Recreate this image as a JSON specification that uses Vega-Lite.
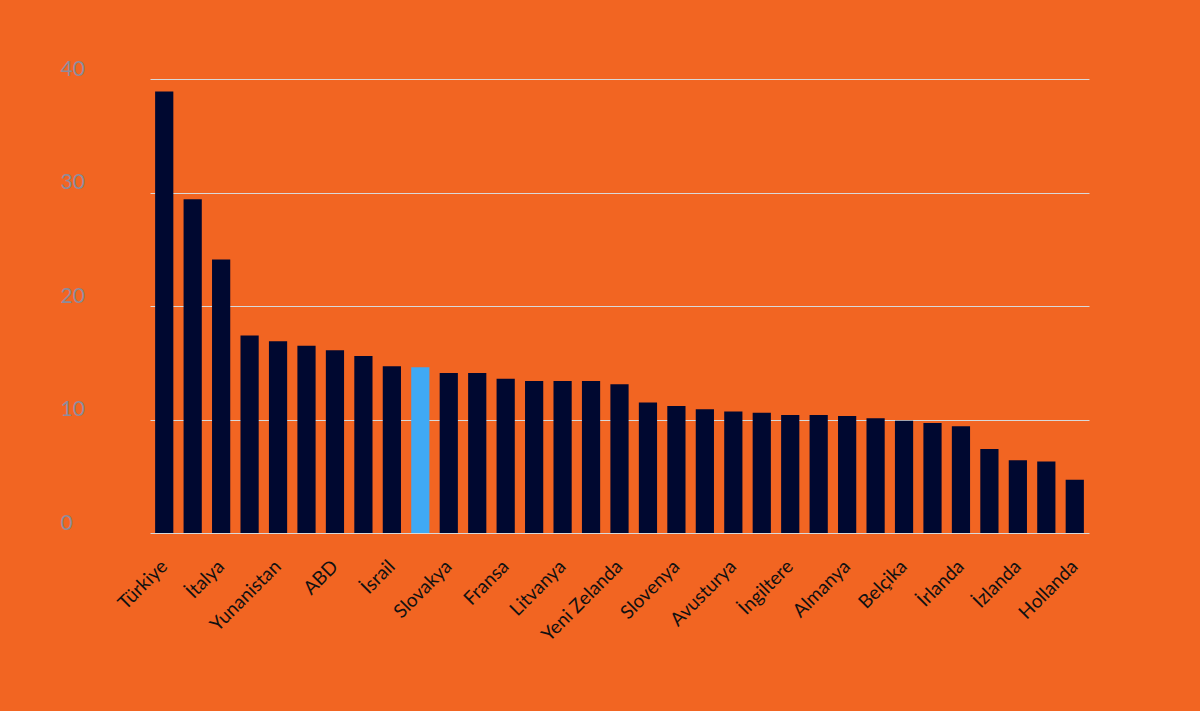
{
  "$schema": "https://vega.github.io/schema/vega-lite/v6.json",
  "autosize": {"type": "none"},
  "padding": {"left": 100, "top": 79, "right": 70, "bottom": 178},
  "width": 1030,
  "height": 454,
  "background": "#F26522",
  "config": {"view": {"stroke": null}},
  "data": {"values": [
    {"ulke": "Türkiye", "deger": 38.9},
    {"ulke": "Kolombiya", "deger": 29.4},
    {"ulke": "İtalya", "deger": 24.1},
    {"ulke": "Letonya", "deger": 17.4},
    {"ulke": "Yunanistan", "deger": 16.9},
    {"ulke": "Polonya", "deger": 16.5},
    {"ulke": "ABD", "deger": 16.1},
    {"ulke": "Estonya", "deger": 15.6},
    {"ulke": "İsrail", "deger": 14.7},
    {"ulke": "OECD", "deger": 14.6, "vurgu": true},
    {"ulke": "Slovakya", "deger": 14.1},
    {"ulke": "Çekya", "deger": 14.1},
    {"ulke": "Fransa", "deger": 13.6},
    {"ulke": "Şili", "deger": 13.4},
    {"ulke": "Litvanya", "deger": 13.4},
    {"ulke": "Meksika", "deger": 13.4},
    {"ulke": "Yeni Zelanda", "deger": 13.1},
    {"ulke": "Portekiz", "deger": 11.5},
    {"ulke": "Slovenya", "deger": 11.2},
    {"ulke": "Kanada", "deger": 10.9},
    {"ulke": "Avusturya", "deger": 10.7},
    {"ulke": "Danimarka", "deger": 10.6},
    {"ulke": "İngiltere", "deger": 10.4},
    {"ulke": "Norveç", "deger": 10.4},
    {"ulke": "Almanya", "deger": 10.3},
    {"ulke": "İspanya", "deger": 10.1},
    {"ulke": "Belçika", "deger": 9.9},
    {"ulke": "Lüksemburg", "deger": 9.7},
    {"ulke": "İrlanda", "deger": 9.4},
    {"ulke": "Avustralya", "deger": 7.4},
    {"ulke": "İzlanda", "deger": 6.4},
    {"ulke": "Japonya", "deger": 6.3},
    {"ulke": "Hollanda", "deger": 4.7}
  ]},
  "mark": {"type": "bar"},
  "encoding": {
    "x": {
      "field": "ulke",
      "type": "nominal",
      "sort": null,
      "scale": {"range": [50, 989], "paddingInner": 0.36, "paddingOuter": 0.18},
      "axis": {
        "title": null,
        "domain": false,
        "ticks": false,
        "labelAngle": -45,
        "labelAlign": "right",
        "labelBaseline": "middle",
        "labelFont": "Lato",
        "labelFontSize": 19,
        "labelColor": "#111111",
        "labelPadding": 30,
        "labelOverlap": false,
        "values": ["Türkiye", "İtalya", "Yunanistan", "ABD", "İsrail", "Slovakya", "Fransa", "Litvanya", "Yeni Zelanda", "Slovenya", "Avusturya", "İngiltere", "Almanya", "Belçika", "İrlanda", "İzlanda", "Hollanda"]
      }
    },
    "y": {
      "field": "deger",
      "type": "quantitative",
      "scale": {"domain": [0, 40]},
      "axis": {
        "title": null,
        "domain": false,
        "ticks": false,
        "values": [0, 10, 20, 30, 40],
        "labelOverlap": false,
        "gridColor": "#d9d9d9",
        "gridWidth": 1,
        "labelFont": "Lato",
        "labelFontSize": 21,
        "labelColor": "#8c8c9c",
        "labelAlign": "left",
        "labelBaseline": "bottom",
        "labelPadding": 40
      }
    },
    "color": {
      "condition": {"test": "datum.vurgu", "value": "#3FA9F5"},
      "value": "#000830"
    }
  }
}
